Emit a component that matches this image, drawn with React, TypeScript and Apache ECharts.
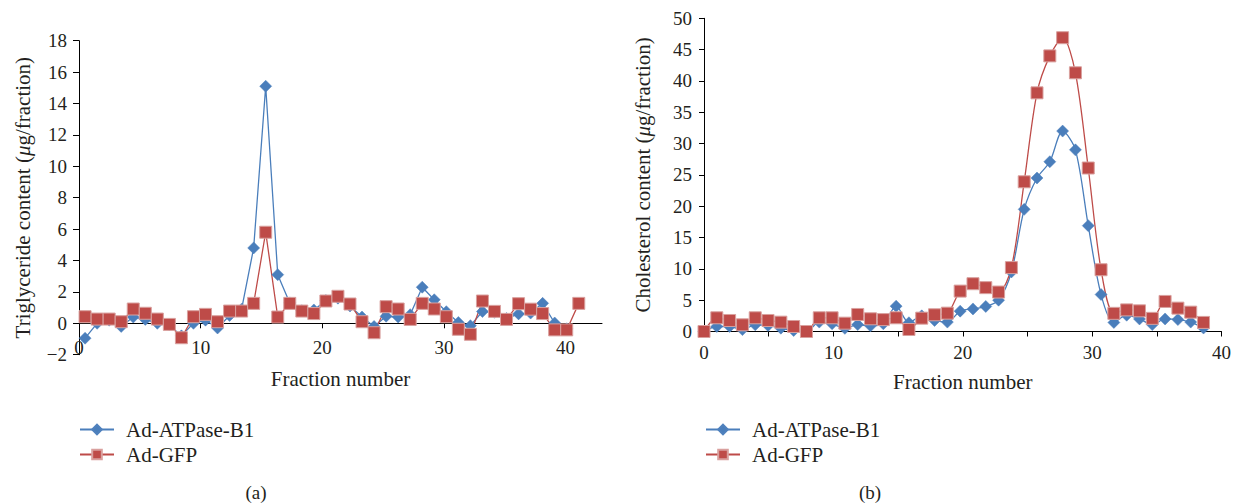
import React, { useEffect, useRef } from "react";
import * as echarts from "echarts";

// ---- Data ----
const seriesNames = ["Ad-ATPase-B1", "Ad-GFP"];

// Panel (a): Triglyceride content
const fractionXA = [0.5, 1.49, 2.48, 3.47, 4.46, 5.45, 6.44, 7.43, 8.42, 9.41, 10.4, 11.39, 12.38, 13.37, 14.36, 15.35, 16.34, 17.33, 18.32, 19.31, 20.3, 21.29, 22.28, 23.27, 24.26, 25.25, 26.24, 27.23, 28.22, 29.21, 30.2, 31.19, 32.18, 33.17, 34.16, 35.15, 36.14, 37.13, 38.12, 39.11, 40.1, 41.09];
const atpaseA = [-0.95, 0.0, 0.2, -0.2, 0.4, 0.25, 0.0, -0.1, -0.8, 0.0, 0.2, -0.3, 0.5, 0.9, 4.8, 15.1, 3.1, 1.3, 0.8, 0.85, 1.45, 1.6, 1.1, 0.4, -0.2, 0.45, 0.4, 0.55, 2.3, 1.5, 0.74, 0.05, -0.15, 0.75, 0.7, 0.3, 0.6, 0.65, 1.27, 0.02, -0.35];
const gfpA = [0.42, 0.27, 0.27, 0.1, 0.91, 0.64, 0.27, -0.07, -0.92, 0.42, 0.57, 0.1, 0.78, 0.78, 1.27, 5.8, 0.4, 1.27, 0.78, 0.62, 1.42, 1.72, 1.23, 0.1, -0.6, 1.06, 0.91, 0.25, 1.27, 0.91, 0.42, -0.38, -0.7, 1.42, 0.76, 0.25, 1.25, 0.9, 0.62, -0.42, -0.42, 1.27];
const xTickLabelsA = [0, 10, 20, 30, 40];

// Panel (b): Cholesterol content
const fractionXB = [0, 0.99, 1.98, 2.97, 3.96, 4.95, 5.94, 6.93, 7.92, 8.91, 9.9, 10.89, 11.88, 12.87, 13.86, 14.85, 15.84, 16.83, 17.82, 18.81, 19.8, 20.79, 21.78, 22.77, 23.76, 24.75, 25.74, 26.73, 27.72, 28.71, 29.7, 30.69, 31.68, 32.67, 33.66, 34.65, 35.64, 36.63, 37.62, 38.61];
const atpaseB = [0, 0.8, 0.8, 0.3, 1.07, 0.96, 0.53, 0.16, 0.0, 1.5, 1.23, 0.5, 1.1, 0.9, 1.23, 4.05, 1.4, 2.5, 1.76, 1.5, 3.25, 3.6, 4.0, 5.0, 9.5, 19.5, 24.5, 27.1, 32.0, 29.0, 16.9, 5.9, 1.44, 2.6, 2.0, 1.1, 2.0, 1.9, 1.5, 0.55];
const gfpB = [0.0, 2.19, 1.76, 1.07, 2.19, 1.76, 1.49, 0.8, 0.0, 2.19, 2.19, 1.33, 2.72, 2.03, 1.9, 2.19, 0.32, 2.13, 2.67, 2.93, 6.45, 7.63, 7.0, 6.3, 10.2, 23.9, 38.1, 44.0, 46.9, 41.3, 26.1, 9.86, 2.9, 3.45, 3.3, 2.1, 4.8, 3.73, 3.09, 1.45];
const xTickLabelsB = [0, 10, 20, 30, 40];

const FONT = '"Liberation Serif", "Times New Roman", serif';
const TEXT = "#231f20";
const BLUE = "#4A7EBB";
const RED = "#BE4B48";

function pairs(xs: number[], ys: number[]) {
  return ys.map((y, i) => [xs[i], y]);
}

const fmtMinus = (v: number) => String(v).replace("-", "\u2212");

export default function App() {
  const ref = useRef<HTMLDivElement>(null);
  useEffect(() => {
    if (!ref.current) return;
    const chart = echarts.init(ref.current, undefined, { renderer: "svg" });
    const axisLineStyle = { color: "#000", width: 1 };
    const tickFont = { fontFamily: FONT, fontSize: 19, color: TEXT };
    const nameFont = {
      fontFamily: FONT,
      fontSize: 21,
      color: TEXT,
      rich: { i: { fontFamily: FONT, fontSize: 21, fontStyle: "italic", color: TEXT } },
    };
    const blueSeries = (data: number[][], xi: number, yi: number, smooth: boolean | number) => ({
      type: "line",
      name: seriesNames[0],
      xAxisIndex: xi,
      yAxisIndex: yi,
      data,
      smooth,
      symbol: "diamond",
      symbolSize: 12,
      lineStyle: { color: BLUE, width: 1.3 },
      itemStyle: { color: BLUE, borderColor: "#4F81BD", borderWidth: 0.5 },
      emphasis: { disabled: true },
    });
    const redSeries = (data: number[][], xi: number, yi: number, smooth: boolean | number) => ({
      type: "line",
      name: seriesNames[1],
      xAxisIndex: xi,
      yAxisIndex: yi,
      data,
      smooth,
      symbol: "rect",
      symbolSize: 12,
      lineStyle: { color: RED, width: 1.3 },
      itemStyle: { color: RED, borderColor: "#D9A09E", borderWidth: 1 },
      emphasis: { disabled: true },
    });
    const legendBase = {
      orient: "vertical",
      top: 419,
      padding: 0,
      itemGap: 4,
      itemWidth: 34,
      itemHeight: 12,
      data: seriesNames,
      selectedMode: false,
      textStyle: { fontFamily: FONT, fontSize: 21, color: TEXT, padding: [0, 0, 0, 7] },
    };
    chart.setOption({
      animation: false,
      backgroundColor: "#fff",
      grid: [
        { left: 79, top: 40.7, width: 523, height: 314 },
        { left: 704, top: 18.3, width: 518.7, height: 313.2 },
      ],
      xAxis: [
        {
          type: "value",
          gridIndex: 0,
          position: "bottom",
          min: 0,
          max: 43,
          interval: 10,
          axisLine: { show: true, onZero: true, lineStyle: axisLineStyle },
          axisTick: { show: true, length: 5, customValues: xTickLabelsA, lineStyle: axisLineStyle },
          axisLabel: { show: false },
          splitLine: { show: false },
        },
        {
          type: "value",
          gridIndex: 0,
          position: "bottom",
          min: 0,
          max: 43,
          interval: 10,
          axisLine: { show: false, onZero: false },
          axisTick: { show: false },
          axisLabel: { ...tickFont, margin: -17, customValues: xTickLabelsA },
          splitLine: { show: false },
          name: "Fraction number",
          nameLocation: "middle",
          nameGap: 14,
          nameTextStyle: nameFont,
        },
        {
          type: "value",
          gridIndex: 1,
          position: "bottom",
          min: 0,
          max: 40,
          interval: 5,
          axisLine: { show: true, onZero: false, lineStyle: axisLineStyle },
          axisTick: { show: true, length: 5, lineStyle: axisLineStyle },
          axisLabel: { ...tickFont, margin: 11, customValues: xTickLabelsB },
          splitLine: { show: false },
          name: "Fraction number",
          nameLocation: "middle",
          nameGap: 40,
          nameTextStyle: nameFont,
        },
      ],
      yAxis: [
        {
          type: "value",
          gridIndex: 0,
          min: -2,
          max: 18,
          interval: 2,
          axisLine: { show: true, onZero: false, lineStyle: axisLineStyle },
          axisTick: { show: true, length: 6, lineStyle: axisLineStyle },
          axisLabel: { ...tickFont, margin: 12, formatter: fmtMinus },
          splitLine: { show: false },
          name: "Triglyceride content ({i|\u03bc}g/fraction)",
          nameLocation: "middle",
          nameGap: 46,
          nameTextStyle: nameFont,
        },
        {
          type: "value",
          gridIndex: 1,
          min: 0,
          max: 50,
          interval: 5,
          axisLine: { show: true, onZero: false, lineStyle: axisLineStyle },
          axisTick: { show: true, length: 5, lineStyle: axisLineStyle },
          axisLabel: { ...tickFont, margin: 12 },
          splitLine: { show: false },
          name: "Cholesterol content ({i|\u03bc}g/fraction)",
          nameLocation: "middle",
          nameGap: 51,
          nameTextStyle: nameFont,
        },
      ],
      legend: [
        { ...legendBase, left: 79 },
        { ...legendBase, left: 705 },
      ],
      series: [
        blueSeries(pairs(fractionXA, atpaseA), 0, 0, false),
        redSeries(pairs(fractionXA, gfpA), 0, 0, false),
        blueSeries(pairs(fractionXB, atpaseB), 2, 1, 0.3),
        redSeries(pairs(fractionXB, gfpB), 2, 1, 0.3),
      ],
      graphic: [
        {
          type: "text",
          x: 256,
          y: 492,
          style: { text: "(a)", textAlign: "center", textVerticalAlign: "middle", font: `19px ${FONT}`, fill: TEXT },
        },
        {
          type: "text",
          x: 870,
          y: 492,
          style: { text: "(b)", textAlign: "center", textVerticalAlign: "middle", font: `19px ${FONT}`, fill: TEXT },
        },
      ],
    });
    return () => chart.dispose();
  }, []);
  return (
    <div
      ref={ref}
      style={{ position: "fixed", left: 0, top: 0, width: 1234, height: 504, background: "#fff" }}
    />
  );
}
